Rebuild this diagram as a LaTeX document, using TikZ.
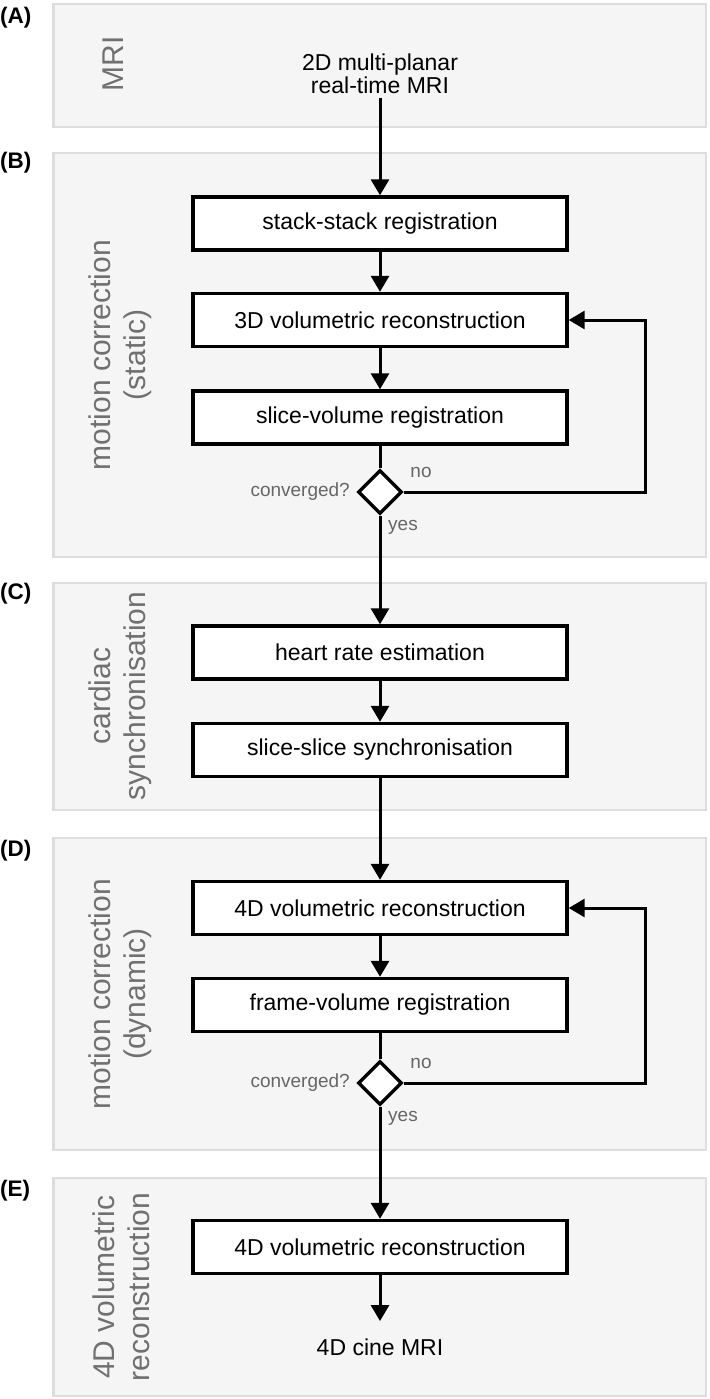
\documentclass[tikz,border=0pt]{standalone}
\usepackage{fontspec}
\setmainfont{Liberation Sans}
\usetikzlibrary{shapes.geometric,arrows.meta}
\definecolor{panelfill}{HTML}{F5F5F5}
\definecolor{panelline}{HTML}{DDDDDD}
\definecolor{sidegray}{HTML}{707070}
\definecolor{smallgray}{HTML}{666666}
\tikzset{
 panel/.style={draw=panelline, fill=panelfill, line width=2.2pt},
 procbox/.style={draw=black, fill=white, line width=3.4pt, minimum width=374pt, minimum height=53pt, inner sep=0pt, font=\fontsize{23}{26}\selectfont},
 decision/.style={diamond, draw=black, fill=white, line width=3.4pt, minimum width=44pt, minimum height=44pt, inner sep=0pt},
 sidelabel/.style={rotate=90, align=center, text=sidegray, font=\fontsize{30}{35}\selectfont},
 panellabel/.style={anchor=west, inner sep=0pt, font=\bfseries\fontsize{22.5}{24}\selectfont},
 smalllabel/.style={text=smallgray, inner sep=0pt, font=\fontsize{19}{20}\selectfont},
 maintext/.style={align=center, font=\fontsize{23}{23.5}\selectfont},
 arr/.style={line width=3pt, -{Triangle[width=18pt,length=16pt]}},
 plainline/.style={line width=3pt},
}
\begin{document}
\begin{tikzpicture}[x=1pt,y=-1pt]
\useasboundingbox (0,0) rectangle (709,1399);
% panels
\path[panel] (53.5,4) rectangle (706,127);
\path[panel] (53.5,153) rectangle (706,557);
\path[panel] (53.5,583) rectangle (706,810);
\path[panel] (53.5,838) rectangle (706,1150);
\path[panel] (53.5,1178) rectangle (706,1396);
% panel labels
\node[panellabel] (la) at (0,18) {(A)};
\node[panellabel] (lb) at (0,163) {(B)};
\node[panellabel] (lc) at (0,594) {(C)};
\node[panellabel] (ld) at (0,851) {(D)};
\node[panellabel] (le) at (0,1191) {(E)};
% side labels
\node[sidelabel] (sa) at (113,64) {MRI};
\node[sidelabel] (sb) at (120,355) {motion correction\\(static)};
\node[sidelabel] (sc) at (120,696) {cardiac\\synchronisation};
\node[sidelabel] (sd) at (120,994) {motion correction\\(dynamic)};
\node[sidelabel] (se) at (121,1287) {4D volumetric\\reconstruction};
% A
\node[maintext] (input) at (380,74) {2D multi-planar\\real-time MRI};
% B
\node[procbox] (b1) at (380,223.5) {stack-stack registration};
\node[procbox] (b2) at (380,320) {3D volumetric reconstruction};
\node[procbox] (b3) at (380,417.5) {slice-volume registration};
\node[decision] (d1) at (380,492) {};
\node[smalllabel, anchor=east] (c1) at (350,492) {converged?};
\node[smalllabel] (n1) at (421,472) {no};
\node[smalllabel] (y1) at (403,527) {yes};
% C
\node[procbox] (c1b) at (380,652.5) {heart rate estimation};
\node[procbox] (c2b) at (380,750) {slice-slice synchronisation};
% D
\node[procbox] (d1b) at (380,908) {4D volumetric reconstruction};
\node[procbox] (d2b) at (380,1005) {frame-volume registration};
\node[decision] (d2) at (380,1083) {};
\node[smalllabel, anchor=east] (c2) at (350,1083) {converged?};
\node[smalllabel] (n2) at (421,1063) {no};
\node[smalllabel] (y2) at (403,1118) {yes};
% E
\node[procbox] (e1) at (380,1247) {4D volumetric reconstruction};
\node[maintext] (out) at (380,1347) {4D cine MRI};
% loop coordinate
\coordinate (loopx) at (645,0);
% connectors
\draw[arr] (input.south) -- (b1.north);
\draw[arr] (b1.south) -- (b2.north);
\draw[arr] (b2.south) -- (b3.north);
\draw[plainline] (b3.south) -- (d1.north);
\draw[arr] (d1.east) -- (d1.east -| loopx) -- (b2.east -| loopx) -- (b2.east);
\draw[arr] (d1.south) -- (c1b.north);
\draw[arr] (c1b.south) -- (c2b.north);
\draw[arr] (c2b.south) -- (d1b.north);
\draw[arr] (d1b.south) -- (d2b.north);
\draw[plainline] (d2b.south) -- (d2.north);
\draw[arr] (d2.east) -- (d2.east -| loopx) -- (d1b.east -| loopx) -- (d1b.east);
\draw[arr] (d2.south) -- (e1.north);
\draw[arr, shorten >=14pt] (e1.south) -- (out.north);
\end{tikzpicture}
\end{document}
